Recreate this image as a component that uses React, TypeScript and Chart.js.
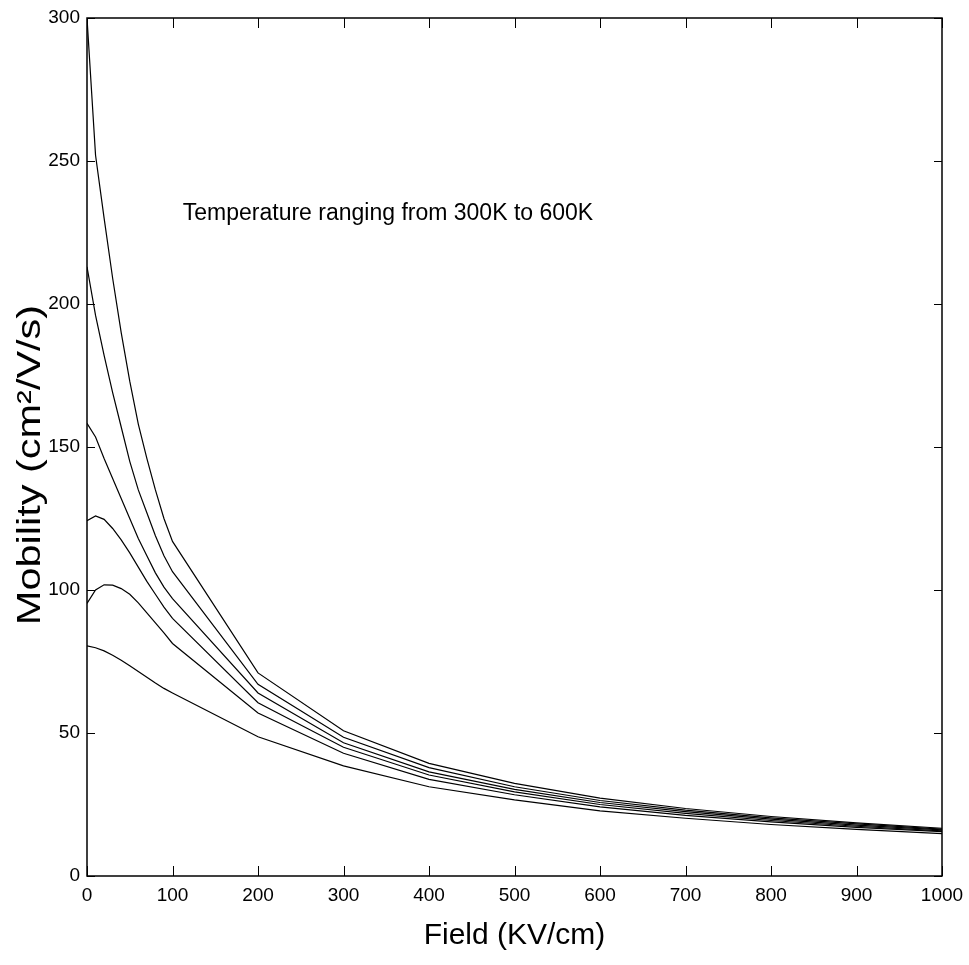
import React, { useEffect, useRef } from "react";
import { Chart, registerables } from "chart.js";

Chart.register(...registerables);

const fields = [0, 10, 20, 30, 40, 50, 60, 70, 80, 90, 100, 200, 300, 400, 500, 600, 700, 800, 900, 1000];

const mob300K = [300, 252, 230, 209, 190, 173, 158, 146, 135, 125, 117, 71, 50.8, 39.4, 32.4, 27.2, 23.6, 20.8, 18.6, 16.7];
const mob360K = [213, 196, 182, 169, 157, 145, 135, 127, 119, 112, 106.4, 67, 48.5, 37.9, 31.2, 26.4, 23, 20.3, 18.2, 16.4];
const mob420K = [158.3, 153.5, 146, 139, 132, 125, 118, 112, 106, 101, 97, 64, 46.6, 36.4, 30.3, 25.7, 22.5, 19.9, 17.8, 16.1];
const mob480K = [124.2, 125.9, 124.7, 121.5, 117.5, 113, 108, 103, 98.5, 94, 90.1, 60.6, 45, 35.3, 29.4, 25, 21.9, 19.4, 17.4, 15.8];
const mob540K = [95.3, 100, 101.8, 101.7, 100.5, 98.5, 95.5, 92, 88.5, 85, 81.3, 57, 42.9, 33.8, 28.4, 24.2, 21.2, 18.9, 17, 15.5];
const mob600K = [80.5, 79.8, 78.7, 77.2, 75.4, 73.5, 71.5, 69.5, 67.5, 65.6, 64, 48.7, 38.5, 31.2, 26.6, 22.8, 20.2, 18, 16.3, 14.8];

const seriesList = [mob300K, mob360K, mob420K, mob480K, mob540K, mob600K];
const seriesNames = ["300K", "360K", "420K", "480K", "540K", "600K"];

const xTicks = [0, 100, 200, 300, 400, 500, 600, 700, 800, 900, 1000];
const yTicks = [0, 50, 100, 150, 200, 250, 300];

const annotationText = "Temperature ranging from 300K to 600K";
const xTitle = "Field (KV/cm)";
const yTitle = "Mobility (cm\u00B2/V/s)";

const FONT = "'Liberation Sans', Arial, Helvetica, sans-serif";

const frameAndAnnotation = {
  id: "frameAndAnnotation",
  afterDraw(chart: any) {
    const { ctx, chartArea } = chart;
    const { left, right, top, bottom } = chartArea;
    const xs = chart.scales.x;
    const ys = chart.scales.y;
    ctx.save();
    ctx.strokeStyle = "#000";
    ctx.lineWidth = 1.5;
    ctx.strokeRect(left, top, right - left, bottom - top);
    ctx.lineWidth = 1;
    ctx.beginPath();
    for (const v of xTicks) {
      const px = Math.round(xs.getPixelForValue(v)) + 0.5;
      ctx.moveTo(px, bottom);
      ctx.lineTo(px, bottom - 10);
      ctx.moveTo(px, top);
      ctx.lineTo(px, top + 10);
    }
    for (const v of yTicks) {
      const py = Math.round(ys.getPixelForValue(v)) + 0.5;
      ctx.moveTo(left, py);
      ctx.lineTo(left + 8, py);
      ctx.moveTo(right, py);
      ctx.lineTo(right - 8, py);
    }
    ctx.stroke();
    ctx.fillStyle = "#000";
    ctx.font = "23px " + FONT;
    ctx.textAlign = "left";
    ctx.textBaseline = "middle";
    ctx.fillText(annotationText, xs.getPixelForValue(112), ys.getPixelForValue(231.5));
    ctx.save();
    ctx.translate(31, 465);
    ctx.rotate(-Math.PI / 2);
    ctx.scale(1.22, 1);
    ctx.font = "34px " + FONT;
    ctx.textAlign = "center";
    ctx.textBaseline = "middle";
    ctx.fillText(yTitle, 0, 0);
    ctx.restore();
    ctx.restore();
  },
};

export default function App() {
  const ref = useRef<HTMLCanvasElement>(null);

  useEffect(() => {
    if (!ref.current) return;
    const chart = new Chart(ref.current, {
      type: "line",
      data: {
        datasets: seriesList.map((s, i) => ({
          label: seriesNames[i],
          data: fields.map((f, j) => ({ x: f, y: s[j] })),
          borderColor: "#000",
          backgroundColor: "#000",
          borderWidth: 1.2,
          pointRadius: 0,
          tension: 0,
          fill: false,
        })),
      },
      options: {
        animation: false,
        responsive: false,
        maintainAspectRatio: false,
        layout: { padding: { top: 18, right: 27, left: 0, bottom: 0 } },
        plugins: {
          legend: { display: false },
          tooltip: { enabled: false },
        },
        scales: {
          x: {
            type: "linear",
            min: 0,
            max: 1000,
            grid: { display: false, drawTicks: false },
            border: { display: false },
            ticks: {
              stepSize: 100,
              autoSkip: false,
              maxRotation: 0,
              padding: 8,
              color: "#000",
              font: { family: FONT, size: 19 },
              callback: (v: any) => String(v),
            },
            title: {
              display: true,
              text: xTitle,
              color: "#000",
              font: { family: FONT, size: 30 },
              padding: { top: 0, bottom: 11 },
            },
            afterFit(scale: any) {
              scale.height = 89;
              scale.paddingLeft = 0;
              scale.paddingRight = 0;
            },
          },
          y: {
            type: "linear",
            min: 0,
            max: 300,
            grid: { display: false, drawTicks: false },
            border: { display: false },
            ticks: {
              stepSize: 50,
              autoSkip: false,
              padding: 7,
              color: "#000",
              font: { family: FONT, size: 19 },
            },
            title: { display: false, text: yTitle },
            afterFit(scale: any) {
              scale.width = 87;
              scale.paddingTop = 0;
              scale.paddingBottom = 0;
            },
          },
        },
      },
      plugins: [frameAndAnnotation],
    });
    return () => chart.destroy();
  }, []);

  return (
    <div style={{ position: "absolute", left: 0, top: 0, width: 969, height: 965, background: "#fff" }}>
      <canvas ref={ref} width={969} height={965} style={{ display: "block", width: 969, height: 965 }} />
    </div>
  );
}
